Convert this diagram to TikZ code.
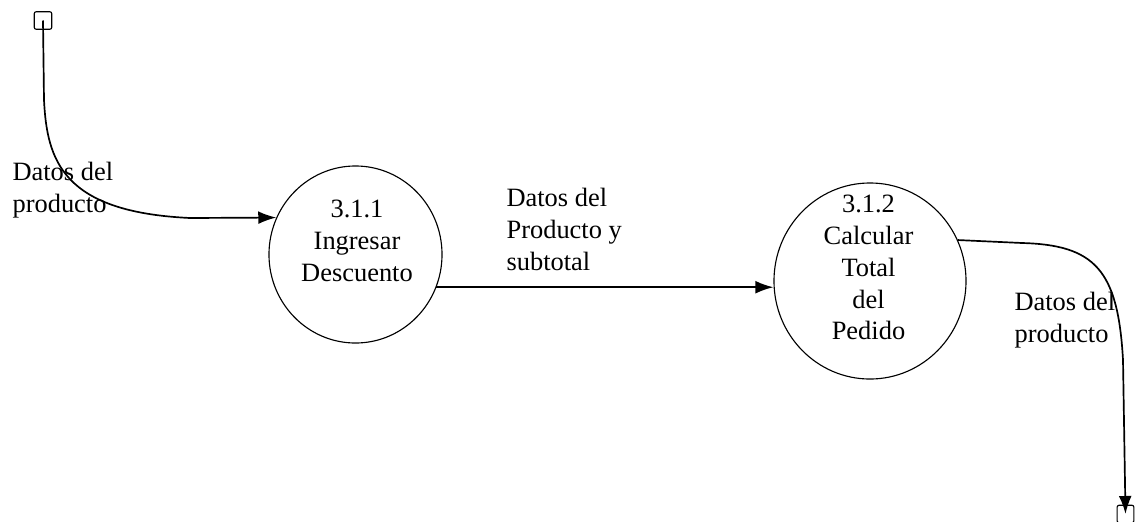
\documentclass[tikz,border=0pt]{standalone}
\usepackage{fontspec}
\setmainfont{Liberation Serif}
\usetikzlibrary{shapes.geometric,arrows.meta}
\tikzset{
  bubble/.style={draw,shape=ellipse,inner sep=0pt},
  store/.style={draw,shape=rectangle,rounded corners=1.5pt,minimum width=.44cm,minimum height=.44cm,inner sep=0pt},
  flow/.style={-{Latex[length=.45cm,width=.32cm]},line width=1.2pt},
  caption/.style={align=center,font=\fontsize{18.8}{22.7}\selectfont},
  tag/.style={align=left,anchor=north west,inner sep=0pt,font=\fontsize{18.8}{22.7}\selectfont}
}
\begin{document}
\begin{tikzpicture}[thick, x=.025cm, y=-.025cm]
        \useasboundingbox (0,0) rectangle (1138,521);
        \draw (43,20.5) node[store,name=src] {};
        \draw (1125.5,514) node[store,name=dst,minimum width=.42cm] {};
        \draw (355.5,254.5) node[bubble,name=ingresar,minimum width=4.325cm,minimum height=4.425cm] {};
        \draw (870,281) node[bubble,name=calcular,minimum width=4.8cm,minimum height=4.9cm] {};

        \draw (357,241) node[caption,name=ingresartxt] {3.1.1\\Ingresar\\Descuento};
        \draw (868.5,267.5) node[caption,name=calculartxt] {3.1.2\\Calcular\\Total\\del\\Pedido};

        \draw (12,162) node[tag,name=entrada] {Datos del\\producto};
        \draw (506,188) node[tag,name=subtotal] {Datos del\\Producto y\\subtotal};
        \draw (1014,292) node[tag,name=salida] {Datos del\\producto};

        \draw[flow] (src.center) -- (44,100) .. controls (47,160) and (62,212) .. (190,218) -- (ingresar.155);
        \draw[flow] (ingresar.-22) -- (ingresar.-22 -| calcular.west);
        \draw[flow] (calcular.25) -- (1022,243) .. controls (1095,245) and (1118,270) .. (1123,360) -- (dst.center);
\end{tikzpicture}
\end{document}
